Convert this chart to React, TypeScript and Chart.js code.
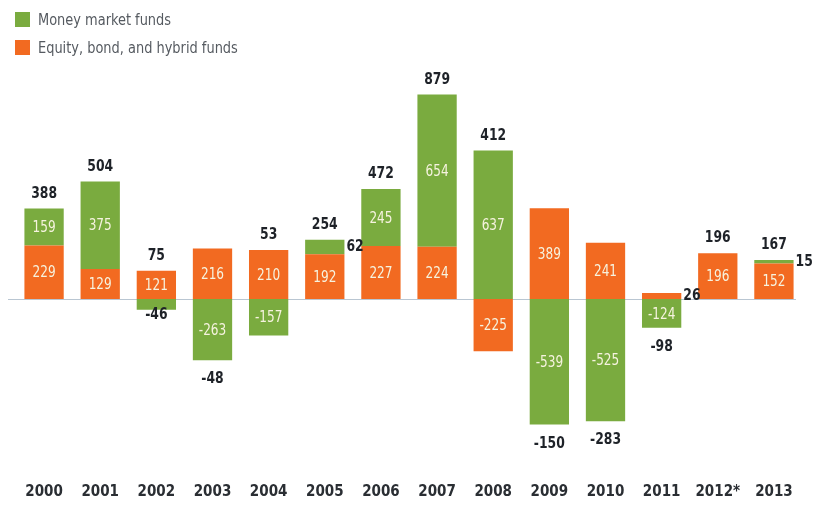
import React, { useEffect, useRef } from "react";
import Chart from "chart.js/auto";

const years = ["2000", "2001", "2002", "2003", "2004", "2005", "2006", "2007", "2008", "2009", "2010", "2011", "2012*", "2013"];
const equityBondHybrid = [229, 129, 121, 216, 210, 192, 227, 224, -225, 389, 241, 26, 196, 152];
const moneyMarket = [159, 375, -46, -263, -157, 62, 245, 654, 637, -539, -525, -124, 0, 15];
const totals = [388, 504, 75, -48, 53, 254, 472, 879, 412, -150, -283, -98, 196, 167];

const GREEN = "#7aab3f";
const ORANGE = "#f26a21";
const FONT = "'DejaVu Sans Condensed', 'DejaVu Sans', sans-serif";

function drawNarrow(ctx: any, text: string, x: number, y: number, align: string, sx: number) {
  ctx.save();
  ctx.translate(x, y);
  ctx.scale(sx, 1);
  ctx.textAlign = align;
  ctx.fillText(text, 0, 0);
  ctx.restore();
}

const labelPlugin = {
  id: "valueLabels",
  afterDatasetsDraw(chart: any) {
    const ctx = chart.ctx;
    ctx.save();
    ctx.textBaseline = "middle";
    const n = chart.data.labels.length;
    const tops: number[] = new Array(n).fill(Infinity);
    const bottoms: number[] = new Array(n).fill(-Infinity);
    chart.data.datasets.forEach((ds: any, di: number) => {
      const meta = chart.getDatasetMeta(di);
      meta.data.forEach((bar: any, i: number) => {
        const v = ds.data[i];
        if (!v) return;
        const p = bar.getProps(["x", "y", "base", "width"], true);
        const hi = Math.min(p.y, p.base);
        const lo = Math.max(p.y, p.base);
        tops[i] = Math.min(tops[i], hi);
        bottoms[i] = Math.max(bottoms[i], lo);
        const h = lo - hi;
        if (h >= 20) {
          ctx.font = `16px ${FONT}`;
          ctx.fillStyle = "#f6f3df";
          drawNarrow(ctx, String(v), p.x, (hi + lo) / 2 + 1, "center", 0.84);
        } else if (v > 0) {
          ctx.font = `bold 16px ${FONT}`;
          ctx.fillStyle = "#1e2228";
          drawNarrow(ctx, String(v), p.x + p.width / 2 + 2, (hi + lo) / 2, "left", 0.86);
        } else {
          ctx.font = `bold 16px ${FONT}`;
          ctx.fillStyle = "#1e2228";
          drawNarrow(ctx, String(v), p.x, lo + 5, "center", 0.86);
        }
      });
    });
    const meta0 = chart.getDatasetMeta(0);
    ctx.font = `bold 16px ${FONT}`;
    ctx.fillStyle = "#1e2228";
    for (let i = 0; i < n; i++) {
      const total = totals[i];
      const x = meta0.data[i].x;
      if (total >= 0) {
        const top = tops[i] === Infinity ? chart.scales.y.getPixelForValue(0) : tops[i];
        drawNarrow(ctx, String(total), x, top - 15, "center", 0.86);
      } else {
        drawNarrow(ctx, String(total), x, bottoms[i] + 19, "center", 0.86);
      }
    }
    ctx.restore();
  },
};

const zeroLinePlugin = {
  id: "zeroLine",
  beforeDatasetsDraw(chart: any) {
    const ctx = chart.ctx;
    const y = Math.round(chart.scales.y.getPixelForValue(0)) + 0.5;
    ctx.save();
    ctx.strokeStyle = "#b9c6d2";
    ctx.lineWidth = 1;
    ctx.beginPath();
    ctx.moveTo(8, y);
    ctx.lineTo(chart.chartArea.right - 6, y);
    ctx.stroke();
    ctx.restore();
  },
};

export default function App() {
  const ref = useRef<HTMLCanvasElement>(null);
  useEffect(() => {
    if (!ref.current) return;
    const chart = new Chart(ref.current, {
      type: "bar",
      data: {
        labels: years,
        datasets: [
          { label: "Equity, bond, and hybrid funds", data: equityBondHybrid, backgroundColor: ORANGE, stack: "s" },
          { label: "Money market funds", data: moneyMarket, backgroundColor: GREEN, stack: "s" },
        ],
      },
      options: {
        animation: false,
        responsive: false,
        maintainAspectRatio: false,
        layout: { padding: { left: 16, right: 15, top: 66, bottom: 4 } },
        plugins: { legend: { display: false }, tooltip: { enabled: false } },
        datasets: { bar: { barPercentage: 0.7, categoryPercentage: 1 } },
        scales: {
          x: {
            stacked: true,
            grid: { display: false, drawTicks: false },
            border: { display: false },
            ticks: { color: "#2a2e33", font: { family: FONT, size: 15, weight: "bold" }, padding: 4 },
          },
          y: { stacked: true, display: false, min: -773, max: 1000 },
        },
      },
      plugins: [zeroLinePlugin, labelPlugin],
    });
    return () => chart.destroy();
  }, []);

  const legendRow = (color: string, text: string, top: number) => (
    <div style={{ position: "absolute", left: 15, top, display: "flex", alignItems: "center", fontFamily: FONT, fontSize: 16, color: "#555a60" }}>
      <span style={{ display: "inline-block", width: 15, height: 15, background: color, marginRight: 8 }} />
      <span style={{ display: "inline-block", transform: "scaleX(0.9)", transformOrigin: "left center" }}>{text}</span>
    </div>
  );

  return (
    <div style={{ position: "fixed", left: 0, top: 0, width: 817, height: 509, background: "#fff" }}>
      <canvas ref={ref} width={817} height={509} style={{ position: "absolute", left: 0, top: 0 }} />
      {legendRow(GREEN, "Money market funds", 10)}
      {legendRow(ORANGE, "Equity, bond, and hybrid funds", 38)}
    </div>
  );
}
